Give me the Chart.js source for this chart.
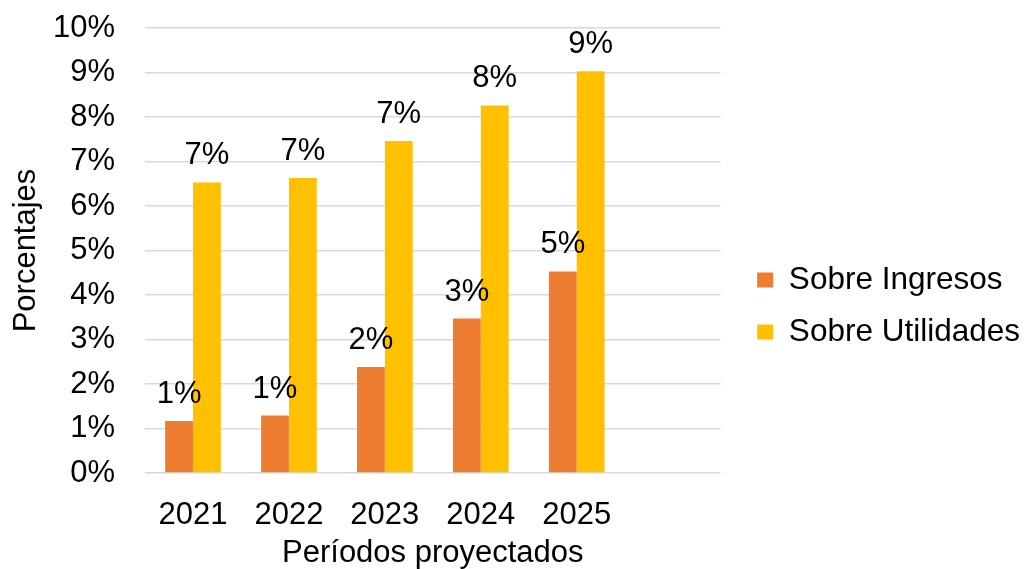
<!DOCTYPE html>
<html>
<head>
<meta charset="utf-8">
<script src="https://cdn.jsdelivr.net/npm/chart.js@4/dist/chart.umd.min.js"></script>
<style>
html,body{margin:0;padding:0;background:#fff;}
#wrap{width:1024px;height:569px;position:relative;}
</style>
</head>
<body>
<div id="wrap"><canvas id="c"></canvas></div>
<script>
const categories = ['2021', '2022', '2023', '2024', '2025', ''];
const sobreIngresos = [1.17, 1.29, 2.38, 3.47, 4.53, null];
const sobreUtilidades = [6.53, 6.63, 7.46, 8.26, 9.03, null];
const seriesNames = ['Sobre Ingresos', 'Sobre Utilidades'];
const yTitle = 'Porcentajes';
const xTitle = 'Períodos proyectados';

const FONT = "'Liberation Sans', Arial, sans-serif";
const FS = 31;
const TXT = '#000000';

const labelPlugin = {
  id: 'barLabels',
  afterDatasetsDraw(chart) {
    const ctx = chart.ctx;
    ctx.save();
    ctx.font = FS + 'px ' + FONT;
    ctx.fillStyle = TXT;
    ctx.textAlign = 'center';
    ctx.textBaseline = 'alphabetic';
    chart.data.datasets.forEach((ds, di) => {
      const meta = chart.getDatasetMeta(di);
      meta.data.forEach((bar, i) => {
        const v = ds.data[i];
        if (v == null) return;
        ctx.fillText(Math.round(v) + '%', bar.x, bar.y - 18);
      });
    });
    ctx.restore();
  }
};

function noPad(s) { s.paddingTop = 0; s.paddingBottom = 0; s.paddingLeft = 0; s.paddingRight = 0; }

new Chart(document.getElementById('c'), {
  type: 'bar',
  data: {
    labels: categories,
    datasets: [
      { label: seriesNames[0], data: sobreIngresos, backgroundColor: '#ED7D31', borderWidth: 0 },
      { label: seriesNames[1], data: sobreUtilidades, backgroundColor: '#FFC000', borderWidth: 0 }
    ]
  },
  options: {
    responsive: true,
    maintainAspectRatio: false,
    animation: false,
    devicePixelRatio: 1,
    layout: { padding: { left: 0, right: -6, top: 28, bottom: 0 } },
    datasets: { bar: { categoryPercentage: 0.58, barPercentage: 1.0 } },
    plugins: {
      legend: {
        position: 'right',
        maxWidth: 400,
        title: { display: true, text: ' ', font: { size: 12.5, family: FONT }, padding: 0 },
        labels: {
          boxWidth: 16, boxHeight: 15, padding: 20.5,
          color: TXT, font: { size: 31.5, family: FONT }
        }
      },
      tooltip: { enabled: false }
    },
    scales: {
      x: {
        grid: { display: false, drawTicks: false },
        border: { display: false },
        ticks: { color: TXT, font: { size: FS, family: FONT }, padding: 24, maxRotation: 0 },
        title: { display: true, text: xTitle, color: TXT, font: { size: FS, family: FONT }, padding: { top: 0, bottom: -3 } },
        afterFit(s) { s.height = 96; noPad(s); }
      },
      y: {
        min: 0, max: 10,
        grid: { color: '#D9D9D9', lineWidth: 1.5, drawTicks: false },
        border: { display: false },
        ticks: { stepSize: 1, color: TXT, font: { size: FS, family: FONT }, padding: 30,
                 callback: v => v + '%' },
        title: { display: true, text: yTitle, color: TXT, font: { size: FS, family: FONT }, padding: { top: 8, bottom: 0 } },
        afterFit(s) { s.width = 145; noPad(s); }
      },
      gap: {
        type: 'linear', position: 'right', display: true,
        grid: { display: false }, border: { display: false },
        ticks: { display: false },
        afterFit(s) { s.width = 16; noPad(s); }
      }
    }
  },
  plugins: [labelPlugin]
});
</script>
</body>
</html>
